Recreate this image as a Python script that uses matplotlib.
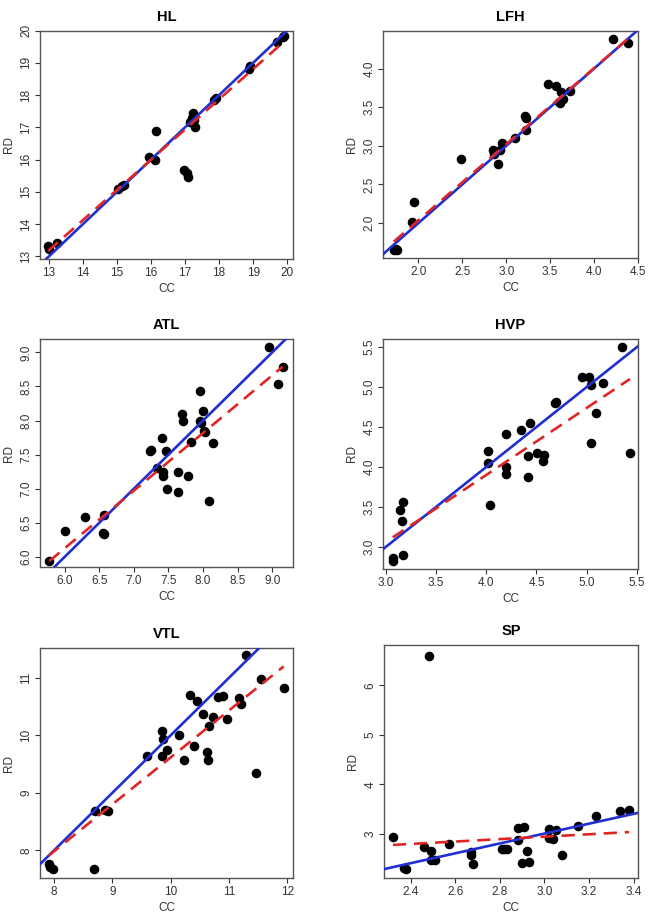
import numpy as np
import matplotlib
matplotlib.use('Agg')
import matplotlib.pyplot as plt

plt.rcParams['font.family'] = ['Liberation Sans', 'DejaVu Sans']

# values (CC on x, RD on y)
hl_cc = [12.98, 13.0, 13.25, 15.04, 15.14, 15.2, 15.95, 16.13, 16.16, 16.98, 17.05, 17.08,
         17.15, 17.22, 17.2, 17.25, 17.28, 17.85, 17.9, 18.88, 18.9, 19.69, 19.88, 19.9]
hl_rd = [13.33, 13.22, 13.42, 15.1, 15.17, 15.22, 16.07, 16.0, 16.9, 15.68, 15.6, 15.45,
         17.15, 17.45, 17.3, 17.22, 17.0, 17.85, 17.9, 18.82, 18.9, 19.65, 19.8, 19.82]

lfh_cc = [1.72, 1.74, 1.76, 1.93, 1.95, 2.48, 2.85, 2.86, 2.91, 2.93, 2.95, 3.10, 3.21,
          3.22, 3.22, 3.47, 3.57, 3.60, 3.61, 3.62, 3.65, 3.73, 4.22, 4.39]
lfh_rd = [1.65, 1.66, 1.65, 2.01, 2.27, 2.83, 2.94, 2.90, 2.76, 2.95, 3.04, 3.10, 3.38,
          3.36, 3.20, 3.80, 3.77, 3.57, 3.55, 3.70, 3.60, 3.71, 4.38, 4.33]

atl_cc = [5.78, 6.01, 6.30, 6.55, 6.57, 6.57, 7.24, 7.25, 7.33, 7.41, 7.42, 7.42, 7.46,
          7.48, 7.64, 7.64, 7.69, 7.71, 7.78, 7.82, 7.96, 7.96, 7.97, 8.0, 8.01, 8.03,
          8.14, 8.09, 8.95, 9.09, 9.15]
atl_rd = [5.94, 6.38, 6.58, 6.35, 6.33, 6.62, 7.56, 7.57, 7.31, 7.75, 7.24, 7.19, 7.56,
          7.0, 7.24, 6.96, 8.10, 7.99, 7.19, 7.69, 8.43, 7.99, 7.96, 8.14, 7.84, 7.83,
          7.67, 6.82, 9.08, 8.53, 8.78]

hvp_cc = [3.07, 3.07, 3.14, 3.16, 3.17, 3.17, 4.02, 4.02, 4.04, 4.20, 4.20, 4.20, 4.35,
          4.42, 4.42, 4.44, 4.51, 4.56, 4.57, 4.68, 4.69, 4.95, 5.02, 5.04, 5.04, 5.09,
          5.16, 5.35, 5.43]
hvp_rd = [2.86, 2.83, 3.46, 3.32, 3.56, 2.90, 4.20, 4.05, 3.53, 4.41, 4.0, 3.91, 4.46,
          4.14, 3.87, 4.55, 4.18, 4.07, 4.15, 4.80, 4.81, 5.12, 5.13, 5.03, 4.30, 4.67,
          5.05, 5.50, 4.17]

vtl_cc = [7.91, 7.94, 7.98, 8.69, 8.70, 8.87, 8.93, 9.60, 9.86, 9.87, 9.86, 9.94, 10.15,
          10.23, 10.34, 10.40, 10.45, 10.56, 10.62, 10.64, 10.66, 10.72, 10.81, 10.90,
          10.96, 11.18, 11.21, 11.30, 11.47, 11.55, 11.94]
vtl_rd = [7.77, 7.72, 7.68, 7.68, 8.69, 8.71, 8.69, 9.65, 10.07, 9.93, 9.65, 9.74, 10.01,
          9.57, 10.71, 9.81, 10.59, 10.38, 9.72, 9.57, 10.16, 10.32, 10.66, 10.69,
          10.28, 10.65, 10.55, 11.39, 9.35, 10.98, 10.83]

sp_cc = [2.32, 2.37, 2.38, 2.46, 2.48, 2.49, 2.49, 2.51, 2.57, 2.67, 2.67, 2.68, 2.81,
         2.82, 2.83, 2.88, 2.88, 2.91, 2.90, 2.92, 2.93, 3.02, 3.02, 3.04, 3.05, 3.08,
         3.15, 3.23, 3.34, 3.38]
sp_rd = [2.93, 2.31, 2.29, 2.72, 6.59, 2.64, 2.47, 2.47, 2.79, 2.62, 2.56, 2.39, 2.68,
         2.68, 2.68, 3.11, 2.87, 3.13, 2.41, 2.64, 2.43, 3.10, 2.91, 2.89, 3.08, 2.56,
         3.16, 3.35, 3.45, 3.47]

# red dashed fit line: RD at min CC and at max CC
hl_fit = [13.17, 19.65]
lfh_fit = [1.76, 4.39]
atl_fit = [5.94, 8.79]
hvp_fit = [3.12, 5.10]
vtl_fit = [7.91, 11.2]
sp_fit = [2.77, 3.03]

panels = [
    ('HL', hl_cc, hl_rd, hl_fit, (12.74, 20.17), (12.92, 19.96),
     np.arange(13, 21), np.arange(13, 21), '%d', (40, 30.5, 293, 259)),
    ('LFH', lfh_cc, lfh_rd, lfh_fit, (1.597, 4.5), (1.548, 4.486),
     np.arange(2.0, 4.51, 0.5), np.arange(2.0, 4.01, 0.5), '%.1f', (383, 31, 638, 258)),
    ('ATL', atl_cc, atl_rd, atl_fit, (5.645, 9.30), (5.853, 9.196),
     np.arange(6.0, 9.01, 0.5), np.arange(6.0, 9.01, 0.5), '%.1f', (40, 339, 293, 567)),
    ('HVP', hvp_cc, hvp_rd, hvp_fit, (2.973, 5.51), (2.725, 5.60),
     np.arange(3.0, 5.51, 0.5), np.arange(3.0, 5.51, 0.5), '%.1f', (383, 339, 638, 569)),
    ('VTL', vtl_cc, vtl_rd, vtl_fit, (7.76, 12.10), (7.52, 11.52),
     np.arange(8, 13), np.arange(8, 12), '%d', (40, 648, 293, 878)),
    ('SP', sp_cc, sp_rd, sp_fit, (2.28, 3.42), (2.10, 6.82),
     np.arange(2.4, 3.41, 0.2), np.arange(3, 7), None, (384, 645, 638, 878)),
]

W, H = 652, 917
fig = plt.figure(figsize=(W / 100, H / 100), dpi=100)

for name, cc, rd, fit, xl, yl, xt, yt, fmt, (l, t, r, b) in panels:
    ax = fig.add_axes([l / W, 1 - b / H, (r - l) / W, (b - t) / H])
    cc = np.array(cc)
    rd = np.array(rd)
    ax.plot(cc, rd, 'o', color='black', markersize=5.9, zorder=2)
    ax.axline((xl[0], xl[0]), slope=1, color='#1f2fd0', lw=1.9, zorder=3)
    ax.plot([cc.min(), cc.max()], fit, color='#e02525', lw=1.9,
            dashes=(5, 3), zorder=4)
    ax.set_xlim(xl)
    ax.set_ylim(yl)
    ax.set_xticks(xt)
    ax.set_yticks(yt)
    if fmt:
        ax.set_xticklabels([fmt % v for v in xt])
        ax.set_yticklabels([fmt % v for v in yt])
    else:
        ax.set_xticklabels(['%.1f' % v for v in xt])
        ax.set_yticklabels(['%d' % v for v in yt])
    for lab in ax.get_yticklabels():
        lab.set_rotation(90)
        lab.set_va('center')
    ax.tick_params(direction='out', length=3.5, width=0.8, labelsize=8.5,
                   colors='#333333', pad=2)
    for s in ax.spines.values():
        s.set_color('#555555')
        s.set_linewidth(1.0)
    ax.set_title(name, fontsize=10.5, fontweight='bold', pad=7)
    ax.set_xlabel('CC', fontsize=8.5, color='#333333', labelpad=3)
    ax.set_ylabel('RD', fontsize=8.5, color='#333333', labelpad=4)

fig.savefig('out.png', dpi=100)
